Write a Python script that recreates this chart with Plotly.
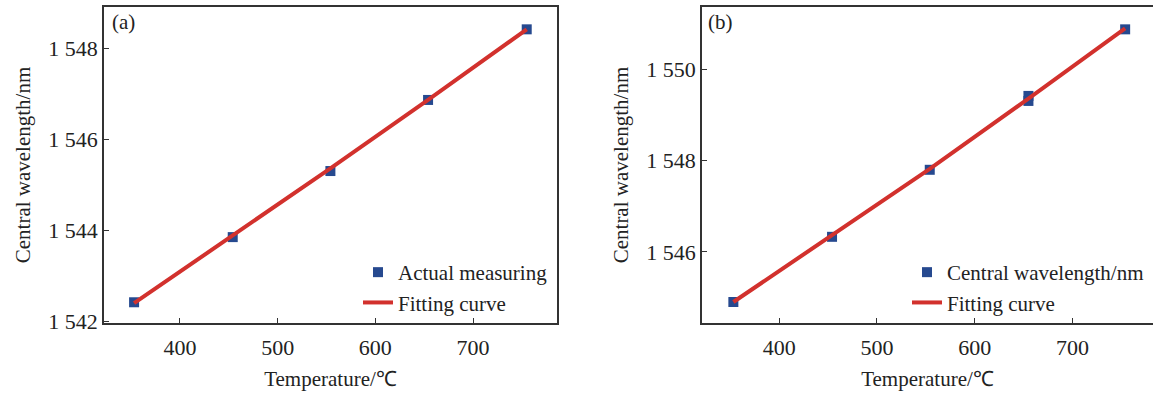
import plotly.graph_objects as go

# ---- data ----
temp_a = [353, 454, 554, 654, 755]
wl_a = [1542.42, 1543.85, 1545.30, 1546.86, 1548.41]
fit_a = [1542.40, 1543.88, 1545.36, 1546.86, 1548.41]

temp_b = [353, 454, 554, 655, 655, 754]
wl_b = [1544.90, 1546.33, 1547.80, 1549.42, 1549.31, 1550.88]
fit_temp_b = [353, 454, 554, 655, 754]
fit_b = [1544.90, 1546.36, 1547.82, 1549.36, 1550.90]

x_ticks = [400, 500, 600, 700]
y_ticks_a = [1542, 1544, 1546, 1548]
y_text_a = ["1 542", "1 544", "1 546", "1 548"]
y_ticks_b = [1546, 1548, 1550]
y_text_b = ["1 546", "1 548", "1 550"]

W, H = 1153, 393
TOP, BOT = 7, 323          # plot area top / bottom in px
PH = BOT - TOP
FONT = "Liberation Serif"
FS = 21
TFS = 22
BLUE = "#26498f"
RED = "#d2312d"
AX = "#333333"


def py(px):
    return (BOT - px) / PH


fig = go.Figure()

fig.add_trace(go.Scatter(x=temp_a, y=wl_a, mode="markers", name="Actual measuring",
                         marker=dict(symbol="square", size=10, color=BLUE),
                         xaxis="x", yaxis="y", legend="legend"))
fig.add_trace(go.Scatter(x=temp_a, y=fit_a, mode="lines", name="Fitting curve",
                         line=dict(color=RED, width=4),
                         xaxis="x", yaxis="y", legend="legend"))
fig.add_trace(go.Scatter(x=temp_b, y=wl_b, mode="markers", name="Central wavelength/nm",
                         marker=dict(symbol="square", size=10, color=BLUE),
                         xaxis="x2", yaxis="y2", legend="legend2"))
fig.add_trace(go.Scatter(x=fit_temp_b, y=fit_b, mode="lines", name="Fitting curve",
                         line=dict(color=RED, width=4),
                         xaxis="x2", yaxis="y2", legend="legend2"))

axis_common = dict(showgrid=False, zeroline=False, ticks="inside", ticklen=5,
                   tickwidth=1.2, tickcolor=AX, linecolor=AX, linewidth=1.5,
                   showline=True, tickfont=dict(family=FONT, size=TFS, color="#222"))

xt = dict(text="Temperature/℃", font=dict(family=FONT, size=FS), standoff=12)
yt = dict(text="Central wavelength/nm", font=dict(family=FONT, size=FS), standoff=12)

fig.update_layout(
    width=W, height=H,
    margin=dict(l=0, r=0, t=TOP, b=H - BOT),
    paper_bgcolor="white", plot_bgcolor="white",
    font=dict(family=FONT, size=FS, color="#222"),
    xaxis=dict(domain=[104 / W, 557 / W], range=[322.2, 786.0], tickvals=x_ticks,
               mirror=True, anchor="y", title=xt, ticklabelstandoff=4, **axis_common),
    yaxis=dict(domain=[0, 1], range=[1541.965, 1548.90], tickvals=y_ticks_a,
               ticktext=y_text_a, mirror=True, anchor="x", title=yt, **axis_common),
    xaxis2=dict(domain=[702 / W, 1.0], range=[320.9, 782.5], tickvals=x_ticks,
                mirror=True, anchor="y2", title=xt, ticklabelstandoff=4, **axis_common),
    yaxis2=dict(domain=[0, 1], range=[1544.44, 1551.37], tickvals=y_ticks_b,
                ticktext=y_text_b, mirror=False, anchor="x2", title=yt, **axis_common),
    legend=dict(x=358 / W, y=py(323), xanchor="left", yanchor="bottom",
                bgcolor="rgba(0,0,0,0)", font=dict(family=FONT, size=FS),
                tracegroupgap=0, itemwidth=30),
    legend2=dict(x=907 / W, y=py(323), xanchor="left", yanchor="bottom",
                 bgcolor="rgba(0,0,0,0)", font=dict(family=FONT, size=FS),
                 tracegroupgap=0, itemwidth=30),
    annotations=[
        dict(text="(a)", xref="paper", yref="paper", x=110 / W, y=py(22),
             xanchor="left", yanchor="middle", showarrow=False, font=dict(family=FONT, size=FS)),
        dict(text="(b)", xref="paper", yref="paper", x=706 / W, y=py(22),
             xanchor="left", yanchor="middle", showarrow=False, font=dict(family=FONT, size=FS)),
    ],
)

fig.write_html("out.html", config={"displayModeBar": False},
               post_script="document.body.style.margin='0';")
